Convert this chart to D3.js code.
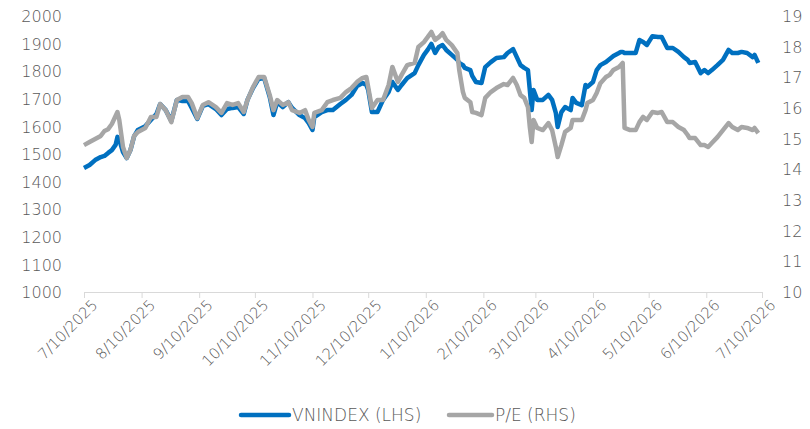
<!DOCTYPE html>
<html>
<head>
<meta charset="utf-8">
<script src="https://cdnjs.cloudflare.com/ajax/libs/d3/7.8.5/d3.min.js"></script>
<style>
  body { margin: 0; background: #fff; }
  svg text { font-family: "DejaVu Sans", sans-serif; font-weight: 200; fill: #595959; }
</style>
</head>
<body>
<div id="chart"></div>
<script>
// Data
var dates = [
  "2025-07-10","2025-07-13","2025-07-16","2025-07-19","2025-07-21","2025-07-23","2025-07-25","2025-07-27","2025-07-28","2025-07-29",
  "2025-07-31","2025-08-02","2025-08-04","2025-08-06","2025-08-08","2025-08-12","2025-08-15","2025-08-18","2025-08-20","2025-08-23",
  "2025-08-26","2025-08-29","2025-09-01","2025-09-04","2025-09-06","2025-09-09","2025-09-12","2025-09-15","2025-09-19","2025-09-22",
  "2025-09-25","2025-09-28","2025-10-01","2025-10-04","2025-10-06","2025-10-09","2025-10-12","2025-10-15","2025-10-18","2025-10-20",
  "2025-10-22","2025-10-25","2025-10-28","2025-10-30","2025-11-03","2025-11-06","2025-11-08","2025-11-10","2025-11-11","2025-11-15",
  "2025-11-18","2025-11-21","2025-11-25","2025-11-28","2025-12-01","2025-12-04","2025-12-07","2025-12-09","2025-12-10","2025-12-12",
  "2025-12-15","2025-12-18","2025-12-21","2025-12-23","2025-12-26","2025-12-28","2025-12-31","2026-01-04","2026-01-06","2026-01-09",
  "2026-01-11","2026-01-13","2026-01-15","2026-01-17","2026-01-19","2026-01-21","2026-01-24","2026-01-27","2026-01-28","2026-01-30",
  "2026-01-31","2026-02-03","2026-02-04","2026-02-06","2026-02-09","2026-02-11","2026-02-14","2026-02-17","2026-02-21","2026-02-23",
  "2026-02-26","2026-02-28","2026-03-02","2026-03-04","2026-03-06","2026-03-07","2026-03-08","2026-03-09","2026-03-11","2026-03-14",
  "2026-03-17","2026-03-19","2026-03-21","2026-03-22","2026-03-24","2026-03-26","2026-03-29","2026-03-30","2026-04-01","2026-04-04",
  "2026-04-06","2026-04-07","2026-04-10","2026-04-12","2026-04-14","2026-04-17","2026-04-19","2026-04-21","2026-04-24","2026-04-25",
  "2026-04-26","2026-04-27","2026-04-30","2026-05-03","2026-05-05","2026-05-07","2026-05-09","2026-05-12","2026-05-15","2026-05-17",
  "2026-05-20","2026-05-23","2026-05-26","2026-05-29","2026-05-31","2026-06-01","2026-06-04","2026-06-07","2026-06-09","2026-06-11",
  "2026-06-13","2026-06-16","2026-06-19","2026-06-22","2026-06-24","2026-06-27","2026-06-29","2026-07-02","2026-07-05","2026-07-06",
  "2026-07-08"
];

var vnindex = [
  1449,1460,1478,1489,1493,1504,1514,1533,1562,1551,
  1507,1485,1514,1565,1587,1601,1623,1645,1681,1659,
  1620,1696,1692,1692,1667,1627,1674,1681,1663,1641,
  1663,1667,1670,1645,1696,1739,1772,1775,1706,1641,
  1688,1670,1688,1667,1641,1630,1612,1587,1634,1652,
  1659,1659,1681,1696,1714,1746,1757,1750,1732,1652,
  1652,1696,1725,1761,1732,1750,1775,1793,1822,1859,
  1877,1899,1866,1888,1895,1877,1859,1841,1830,1822,
  1812,1804,1783,1761,1757,1815,1833,1848,1851,1866,
  1880,1851,1822,1812,1804,1732,1659,1732,1696,1696,
  1714,1696,1649,1598,1652,1670,1659,1703,1685,1677,
  1750,1743,1761,1804,1822,1833,1844,1855,1866,1870,
  1870,1866,1866,1866,1913,1906,1895,1927,1924,1924,
  1884,1884,1870,1851,1841,1830,1833,1793,1804,1793,
  1804,1822,1841,1877,1866,1866,1870,1866,1851,1859,
  1830
];

var pe = [
  14.79,14.89,14.99,15.09,15.25,15.31,15.48,15.74,15.87,15.61,
  14.73,14.37,14.63,15.09,15.22,15.35,15.71,15.71,16.13,15.93,
  15.54,16.26,16.36,16.36,16.16,15.67,16.10,16.19,16.03,15.84,
  16.16,16.10,16.16,15.87,16.26,16.68,17.01,17.01,16.42,15.93,
  16.26,16.10,16.19,15.93,15.84,15.93,15.61,15.38,15.84,15.93,
  16.19,16.26,16.33,16.52,16.65,16.85,16.98,17.01,16.68,16.00,
  16.26,16.26,16.75,17.34,16.85,17.08,17.40,17.47,17.99,18.15,
  18.31,18.48,18.22,18.31,18.44,18.22,18.05,17.79,17.24,16.52,
  16.33,16.19,15.87,15.84,15.77,16.33,16.52,16.65,16.78,16.75,
  16.98,16.75,16.42,16.33,16.03,15.38,14.89,15.61,15.35,15.28,
  15.51,15.28,14.73,14.40,14.79,15.22,15.35,15.61,15.61,15.61,
  15.93,16.16,16.26,16.49,16.81,17.01,17.08,17.24,17.34,17.40,
  17.47,15.35,15.28,15.28,15.54,15.71,15.61,15.87,15.84,15.87,
  15.54,15.54,15.38,15.28,15.12,15.02,15.02,14.79,14.79,14.73,
  14.86,15.05,15.28,15.51,15.38,15.28,15.38,15.35,15.28,15.35,
  15.18
];

var tickDates = [
  "2025-07-10","2025-08-10","2025-09-10","2025-10-10","2025-11-10","2025-12-10",
  "2026-01-10","2026-02-10","2026-03-10","2026-04-10","2026-05-10","2026-06-10","2026-07-10"
];
var leftTicks = [1000, 1100, 1200, 1300, 1400, 1500, 1600, 1700, 1800, 1900, 2000];
var rightTicks = [10, 11, 12, 13, 14, 15, 16, 17, 18, 19];
var seriesNames = ["VNINDEX (LHS)", "P/E (RHS)"];

// Layout
const width = 810, height = 429;
const plotLeft = 84, plotRight = 762, plotTop = 16, plotBottom = 292;
const blue = "#0070C0", grey = "#A6A6A6";

var parse = d3.timeParse("%Y-%m-%d");
var fmt = d3.timeFormat("%-m/%d/%Y");

let svg = d3.select("#chart")
    .append("svg")
    .attr("width", width)
    .attr("height", height);

let x = d3.scaleTime()
    .domain([parse(tickDates[0]), parse(tickDates[tickDates.length - 1])])
    .range([plotLeft, plotRight]);

let yLeft = d3.scaleLinear().domain([1000, 2000]).range([plotBottom, plotTop]);
let yRight = d3.scaleLinear().domain([10, 19]).range([plotBottom, plotTop]);

// Left axis labels
let axL = svg.append("g")
    .attr("transform", `translate(${plotLeft - 22},0)`)
    .call(d3.axisLeft(yLeft).tickValues(leftTicks).tickFormat(d3.format("d")).tickSize(0).tickPadding(0));
axL.select(".domain").remove();
axL.selectAll("text").style("font-size", "16px").attr("dy", "0.35em");

// Right axis labels
let axR = svg.append("g")
    .attr("transform", `translate(${plotRight + 20},0)`)
    .call(d3.axisRight(yRight).tickValues(rightTicks).tickSize(0).tickPadding(0));
axR.select(".domain").remove();
axR.selectAll("text").style("font-size", "16px").attr("dy", "0.35em");

// Bottom date axis
let axB = svg.append("g")
    .attr("transform", `translate(0,${plotBottom})`)
    .call(d3.axisBottom(x).tickValues(tickDates.map(parse)).tickFormat(fmt).tickSize(6).tickSizeOuter(0));
axB.select(".domain").attr("stroke", "#D9D9D9").attr("stroke-width", 1);
axB.selectAll(".tick line").attr("stroke", "#D9D9D9");
axB.selectAll("text")
    .style("font-size", "15px")
    .attr("text-anchor", "end")
    .attr("transform", "translate(4,4) rotate(-45)")
    .attr("dy", "0.35em");

// Lines
let rows = dates.map((d, i) => ({ date: parse(d), vn: vnindex[i], pe: pe[i] }));

let vnLine = d3.line().x(d => x(d.date)).y(d => yLeft(d.vn));
let peLine = d3.line().x(d => x(d.date)).y(d => yRight(d.pe));

svg.append("path")
    .datum(rows)
    .attr("fill", "none")
    .attr("stroke", blue)
    .attr("stroke-width", 4.5)
    .attr("stroke-linejoin", "round")
    .attr("d", vnLine);

svg.append("path")
    .datum(rows)
    .attr("fill", "none")
    .attr("stroke", grey)
    .attr("stroke-width", 4.5)
    .attr("stroke-linejoin", "round")
    .attr("d", peLine);

// Legend
let legend = svg.append("g");
let legendItems = [
    { name: seriesNames[0], color: blue, x0: 241, x1: 289 },
    { name: seriesNames[1], color: grey, x0: 449, x1: 492 }
];
legendItems.forEach(item => {
    legend.append("line")
        .attr("x1", item.x0).attr("x2", item.x1)
        .attr("y1", 415).attr("y2", 415)
        .attr("stroke", item.color)
        .attr("stroke-width", 4.5)
        .attr("stroke-linecap", "round");
    legend.append("text")
        .attr("x", item.x1 + 3)
        .attr("y", 415)
        .attr("dy", "0.35em")
        .style("font-size", "17px")
        .text(item.name);
});
</script>
</body>
</html>
